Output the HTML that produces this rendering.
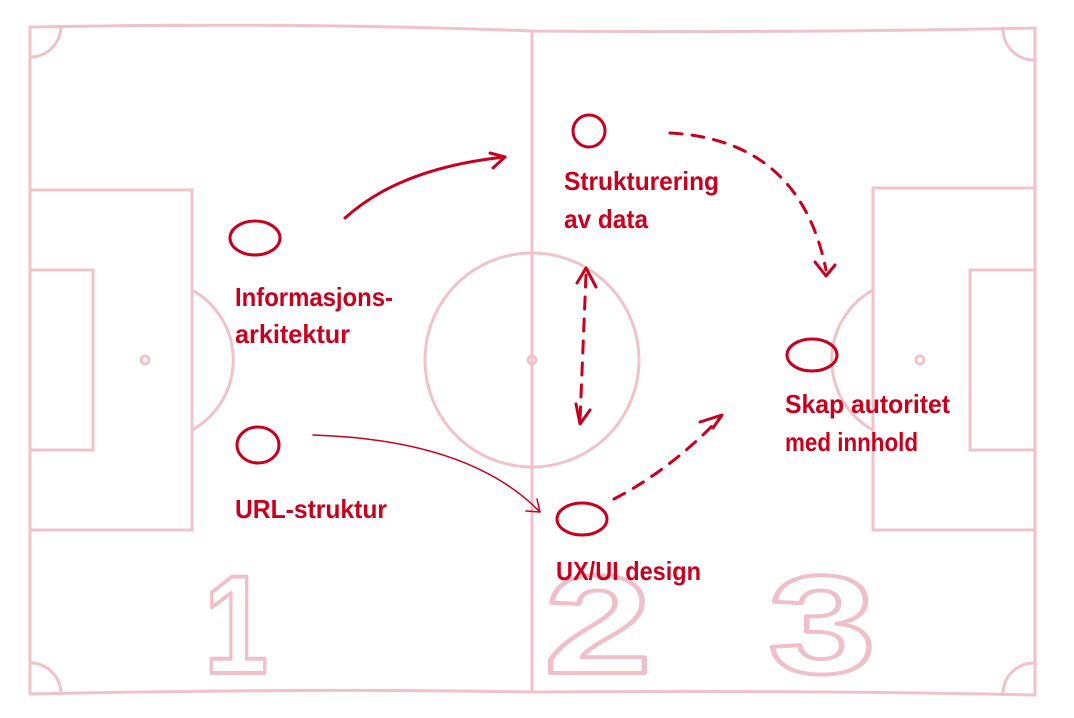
<!DOCTYPE html>
<html><head><meta charset="utf-8"><style>
html,body{margin:0;padding:0;background:#fff;width:1074px;height:718px;overflow:hidden}
svg{display:block}
.p{fill:none;stroke:#f0c3cb;stroke-width:3;stroke-linecap:round}
.r{fill:none;stroke:#c8001e;stroke-width:3;stroke-linecap:round;stroke-linejoin:round}
.d{stroke-dasharray:12 10}
.t{font-family:"Liberation Sans Narrow","Liberation Sans",sans-serif;font-weight:bold;font-size:26px;fill:#c8001e}
.n{font-family:"Liberation Sans",sans-serif;font-weight:900;font-size:140px;fill:none;stroke:#efc0c9;stroke-width:4;stroke-linejoin:round}
</style></head><body>
<svg width="1074" height="718" viewBox="0 0 1074 718">
<path class="p" d="M30 27 Q300 22 532 31 Q800 33 1035 28 L1035 695 Q800 690 532 692 Q300 688 30 694 Z"/>
<line class="p" x1="532" y1="31" x2="532" y2="692"/>
<circle class="p" cx="532" cy="360" r="107"/>
<circle class="p" cx="532" cy="360" r="4"/>
<path class="p" d="M30 190 L192 190 L192 530 L30 530"/>
<path class="p" d="M30 270 L93 270 L93 450 L30 450"/>
<path class="p" d="M192 290 A80 80 0 0 1 192 430"/>
<circle class="p" cx="145" cy="360" r="4"/>
<path class="p" d="M1035 188 L873 188 L873 530 L1035 530"/>
<path class="p" d="M1035 270 L970 270 L970 450 L1035 450"/>
<path class="p" d="M873 290 A80 80 0 0 0 873 430"/>
<circle class="p" cx="920" cy="360" r="4"/>
<path class="p" d="M30 57 A31 31 0 0 0 61 27"/>
<path class="p" d="M1003 28 A31 31 0 0 0 1035 60"/>
<path class="p" d="M30 663 A31 31 0 0 1 61 694"/>
<path class="p" d="M1003 694 A31 31 0 0 1 1035 663"/>
<text class="n" x="204" y="673" textLength="64" lengthAdjust="spacingAndGlyphs">1</text>
<text class="n" x="544" y="673" textLength="108" lengthAdjust="spacingAndGlyphs">2</text>
<text class="n" x="768" y="673" textLength="108" lengthAdjust="spacingAndGlyphs">3</text>
<ellipse class="r" cx="255" cy="238" rx="25" ry="17"/>
<ellipse class="r" cx="258" cy="445" rx="21" ry="18"/>
<ellipse class="r" cx="589" cy="131" rx="16" ry="16"/>
<ellipse class="r" cx="582" cy="519" rx="25" ry="16"/>
<ellipse class="r" cx="812" cy="355" rx="25" ry="16"/>
<path class="r" d="M345 218 Q400 168 505 157"/>
<path class="r" d="M490 153 L505 157 L493 168"/>
<path class="r" style="stroke-width:1.5" d="M313 435 Q470 440 540 512"/>
<path class="r" style="stroke-width:1.5" d="M526 511 L540 512 L537 499"/>
<path class="r d" d="M670 133 Q800 140 826 270"/>
<path class="r" d="M815 262 L826 276 L835 265"/>
<path class="r d" d="M586 275 L580 420"/>
<path class="r" d="M577 283 L586 268 L596 287"/>
<path class="r" d="M576 404 L580 424 L590 410"/>
<path class="r d" d="M614 499 Q670 470 720 418"/>
<path class="r" d="M700 422 L722 415 L713 428"/>
<text class="t" x="235" y="306" textLength="158" lengthAdjust="spacingAndGlyphs">Informasjons-</text>
<text class="t" x="235" y="343" textLength="115" lengthAdjust="spacingAndGlyphs">arkitektur</text>
<text class="t" x="235" y="518" textLength="152" lengthAdjust="spacingAndGlyphs">URL-struktur</text>
<text class="t" x="564" y="190" textLength="155" lengthAdjust="spacingAndGlyphs">Strukturering</text>
<text class="t" x="564" y="228" textLength="84" lengthAdjust="spacingAndGlyphs">av data</text>
<text class="t" x="785" y="413" textLength="165" lengthAdjust="spacingAndGlyphs">Skap autoritet</text>
<text class="t" x="785" y="451" textLength="133" lengthAdjust="spacingAndGlyphs">med innhold</text>
<text class="t" x="556" y="580" textLength="145" lengthAdjust="spacingAndGlyphs">UX/UI design</text>
</svg>
</body></html>
